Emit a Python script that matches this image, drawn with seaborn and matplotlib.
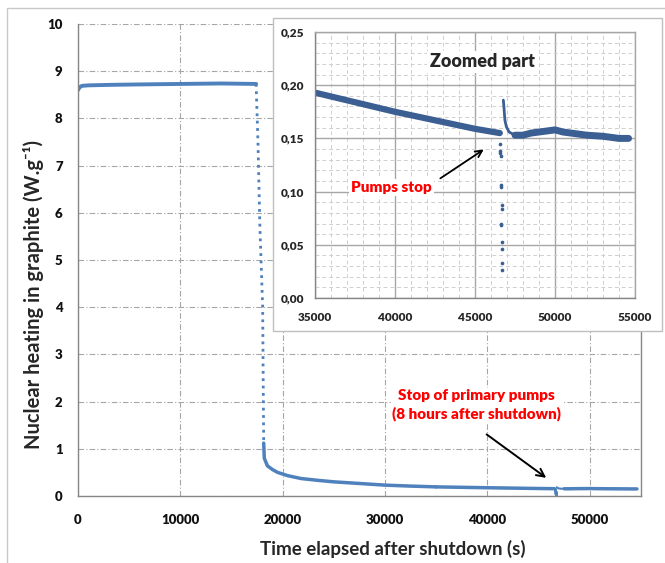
"""
Nuclear heating in graphite after reactor shutdown, with zoomed inset
around the stop of the primary pumps.
"""

import matplotlib.pyplot as plt
import matplotlib.ticker as mticker
from matplotlib.patches import Rectangle
import seaborn as sns

sns.set_style("white")
plt.rcParams["font.family"] = ["Lato", "DejaVu Sans"]

# ------------------------------------------------------------
# Data
# ------------------------------------------------------------
# plateau before shutdown of the device
flat_t = [0, 150, 400, 1000, 3000, 6000, 10000, 14000, 17400]
flat_q = [8.60, 8.66, 8.69, 8.70, 8.71, 8.72, 8.73, 8.74, 8.73]

# fast drop (sparse samples -> dotted)
drop_t = [17400, 17580, 17770, 18040, 18100, 18140]
drop_q = [8.73, 7.5, 5.7, 4.0, 2.2, 1.12]

# slow decay
decay_t = [18140, 18200, 18500, 19000, 19500, 20500, 21800, 23500, 25000,
           27500, 30000, 32500, 35000]
decay_q = [1.12, 0.80, 0.64, 0.56, 0.50, 0.43, 0.37, 0.33, 0.30,
           0.265, 0.23, 0.21, 0.193]

# tail before the pumps stop
tail_t = [35000, 37500, 40000, 42500, 45000, 46550]
tail_q = [0.193, 0.184, 0.175, 0.167, 0.159, 0.155]

# isolated points during the pumps stop
dip_t = [46570, 46580, 46590, 46600, 46620, 46630, 46660, 46700, 46640,
         46650, 46670, 46660, 46680, 46690]
dip_q = [0.145, 0.138, 0.136, 0.133, 0.106, 0.104, 0.087, 0.084, 0.070,
         0.069, 0.053, 0.046, 0.033, 0.026]

# spike just after the pumps stop
spike_t = [46770, 46800, 46830, 46870, 46960, 47130, 47500]
spike_q = [0.186, 0.181, 0.175, 0.167, 0.161, 0.156, 0.153]

# recovery until the end of the record
after_t = [47500, 48000, 48500, 49000, 49500, 50000, 50500, 51000, 52000,
           53000, 54000, 54600]
after_q = [0.153, 0.153, 0.155, 0.156, 0.157, 0.158, 0.156, 0.155, 0.153,
           0.152, 0.150, 0.150]

main_xticks = [0, 10000, 20000, 30000, 40000, 50000]
main_yticks = list(range(0, 11))
zoom_xticks = [35000, 40000, 45000, 50000, 55000]
zoom_yticks = [0.00, 0.05, 0.10, 0.15, 0.20, 0.25]

BLUE = "#4f81bd"
DARK_BLUE = "#3b5f92"
GRID = "#a6a6a6"
SPINE = "#868686"
RED = "#ff0000"

W, H = 665, 563

fig = plt.figure(figsize=(W / 100, H / 100), dpi=100)

# outer frame of the slide picture
fig.patches.append(Rectangle((7 / W, -0.1), 1.2, 1.1 - 8 / H,
                             transform=fig.transFigure, fill=False,
                             edgecolor="#c8c8c8", lw=1, zorder=0))

# ============================================================
# Main axes
# ============================================================
ax = fig.add_axes([78 / W, 1 - 496 / H, (641 - 78) / W, (496 - 24) / H])

kw = dict(ax=ax, color=BLUE, estimator=None, sort=False, legend=False)
sns.lineplot(x=flat_t, y=flat_q, lw=2.8, **kw)
sns.lineplot(x=drop_t, y=drop_q, lw=2.0, linestyle=":", **kw)
sns.lineplot(x=decay_t, y=decay_q, lw=2.5, **kw)
sns.lineplot(x=tail_t, y=tail_q, lw=2.5, **kw)
sns.lineplot(x=spike_t, y=spike_q, lw=1.5, **kw)
sns.lineplot(x=after_t, y=after_q, lw=2.5, **kw)
sns.scatterplot(x=dip_t, y=dip_q, ax=ax, color=BLUE, s=4, linewidth=0,
                legend=False)

ax.set_xlim(0, 55000)
ax.set_ylim(0, 10)
ax.set_xticks(main_xticks)
ax.set_yticks(main_yticks)
ax.grid(True, color=GRID, lw=0.8, linestyle=(0, (5, 2, 1, 2)))
ax.set_axisbelow(True)
for side in ["left", "bottom", "right"]:
    ax.spines[side].set_color(SPINE)
    ax.spines[side].set_linewidth(1)
ax.spines["top"].set_visible(False)
ax.tick_params(axis="both", direction="out", length=4, width=1,
               color=SPINE, labelsize=9.5, labelcolor="#111111")
ax.tick_params(axis="x", pad=9)
ax.tick_params(axis="y", pad=7)
for lab in ax.get_xticklabels() + ax.get_yticklabels():
    lab.set_fontweight("heavy")

ax.set_xlabel("Time elapsed after shutdown (s)", fontsize=13.5,
              fontweight="bold")
ax.set_ylabel("Nuclear heating in graphite (W.g\u207b\u00b9)", fontsize=14.5,
              fontweight="bold")
ax.xaxis.set_label_coords(0.56, -0.092)
ax.yaxis.set_label_coords(-0.06, 0.426)

ax.annotate("", xy=(45960, 0.35), xytext=(39700, 1.34),
            arrowprops=dict(arrowstyle="->", color="black", lw=1.4,
                            mutation_scale=14))
ax.text(38960, 1.93, "Stop of primary pumps\n(8 hours after shutdown)",
        color=RED, fontsize=11, fontweight="heavy", ha="center",
        va="center", linespacing=1.35,
        bbox=dict(boxstyle="square,pad=0.1", facecolor="white",
                  edgecolor="none"))

# ============================================================
# Inset: zoomed part
# ============================================================
fig.patches.append(Rectangle((273 / W, 1 - 331 / H), (662 - 273) / W,
                             (331 - 18) / H, transform=fig.transFigure,
                             facecolor="white", edgecolor="#bfbfbf", lw=1,
                             zorder=2))

axz = fig.add_axes([315 / W, 1 - 298 / H, (635 - 315) / W, (298 - 32) / H])
axz.set_zorder(3)

kwz = dict(ax=axz, color=DARK_BLUE, estimator=None, sort=False, legend=False)
sns.lineplot(x=tail_t, y=tail_q, lw=4.5, **kwz)
sns.lineplot(x=spike_t, y=spike_q, lw=2.0, **kwz)
sns.lineplot(x=after_t, y=after_q, lw=5.0, **kwz)
sns.scatterplot(x=dip_t, y=dip_q, ax=axz, color=DARK_BLUE, s=7, linewidth=0,
                legend=False)

axz.set_xlim(35000, 55000)
axz.set_ylim(0, 0.25)
axz.set_xticks(zoom_xticks)
axz.set_yticks(zoom_yticks)
axz.xaxis.set_minor_locator(mticker.MultipleLocator(1000))
axz.yaxis.set_minor_locator(mticker.MultipleLocator(0.01))
axz.yaxis.set_major_formatter(
    mticker.FuncFormatter(lambda v, p: f"{v:.2f}".replace(".", ",")))
axz.grid(True, which="major", color=GRID, lw=1, linestyle="-")
axz.grid(True, which="minor", color="#cfcfcf", lw=0.7,
         linestyle=(0, (4, 3)))
axz.set_axisbelow(True)
for side in axz.spines:
    axz.spines[side].set_color(SPINE if side in ("left", "bottom") else GRID)
    axz.spines[side].set_linewidth(1)
axz.tick_params(axis="both", which="minor", length=0)
axz.tick_params(axis="y", which="major", direction="out", length=4,
                color=SPINE, labelsize=8.5, pad=4)
axz.tick_params(axis="x", which="major", length=0, labelsize=8.5, pad=10)
for lab in axz.get_xticklabels() + axz.get_yticklabels():
    lab.set_fontweight("heavy")

axz.text(45440, 0.222, "Zoomed part", fontsize=13, fontweight="heavy",
         ha="center", va="center",
         bbox=dict(boxstyle="square,pad=0.15", facecolor="white",
                   edgecolor="none"))
axz.annotate("", xy=(45690, 0.141), xytext=(42690, 0.111),
             arrowprops=dict(arrowstyle="->", color="black", lw=1.3,
                             mutation_scale=12))
axz.text(39800, 0.104, "Pumps stop", color=RED, fontsize=11,
         fontweight="heavy", ha="center", va="center",
         bbox=dict(boxstyle="square,pad=0.15", facecolor="white",
                   edgecolor="none"))

fig.savefig("out.png", dpi=100)
plt.close()
